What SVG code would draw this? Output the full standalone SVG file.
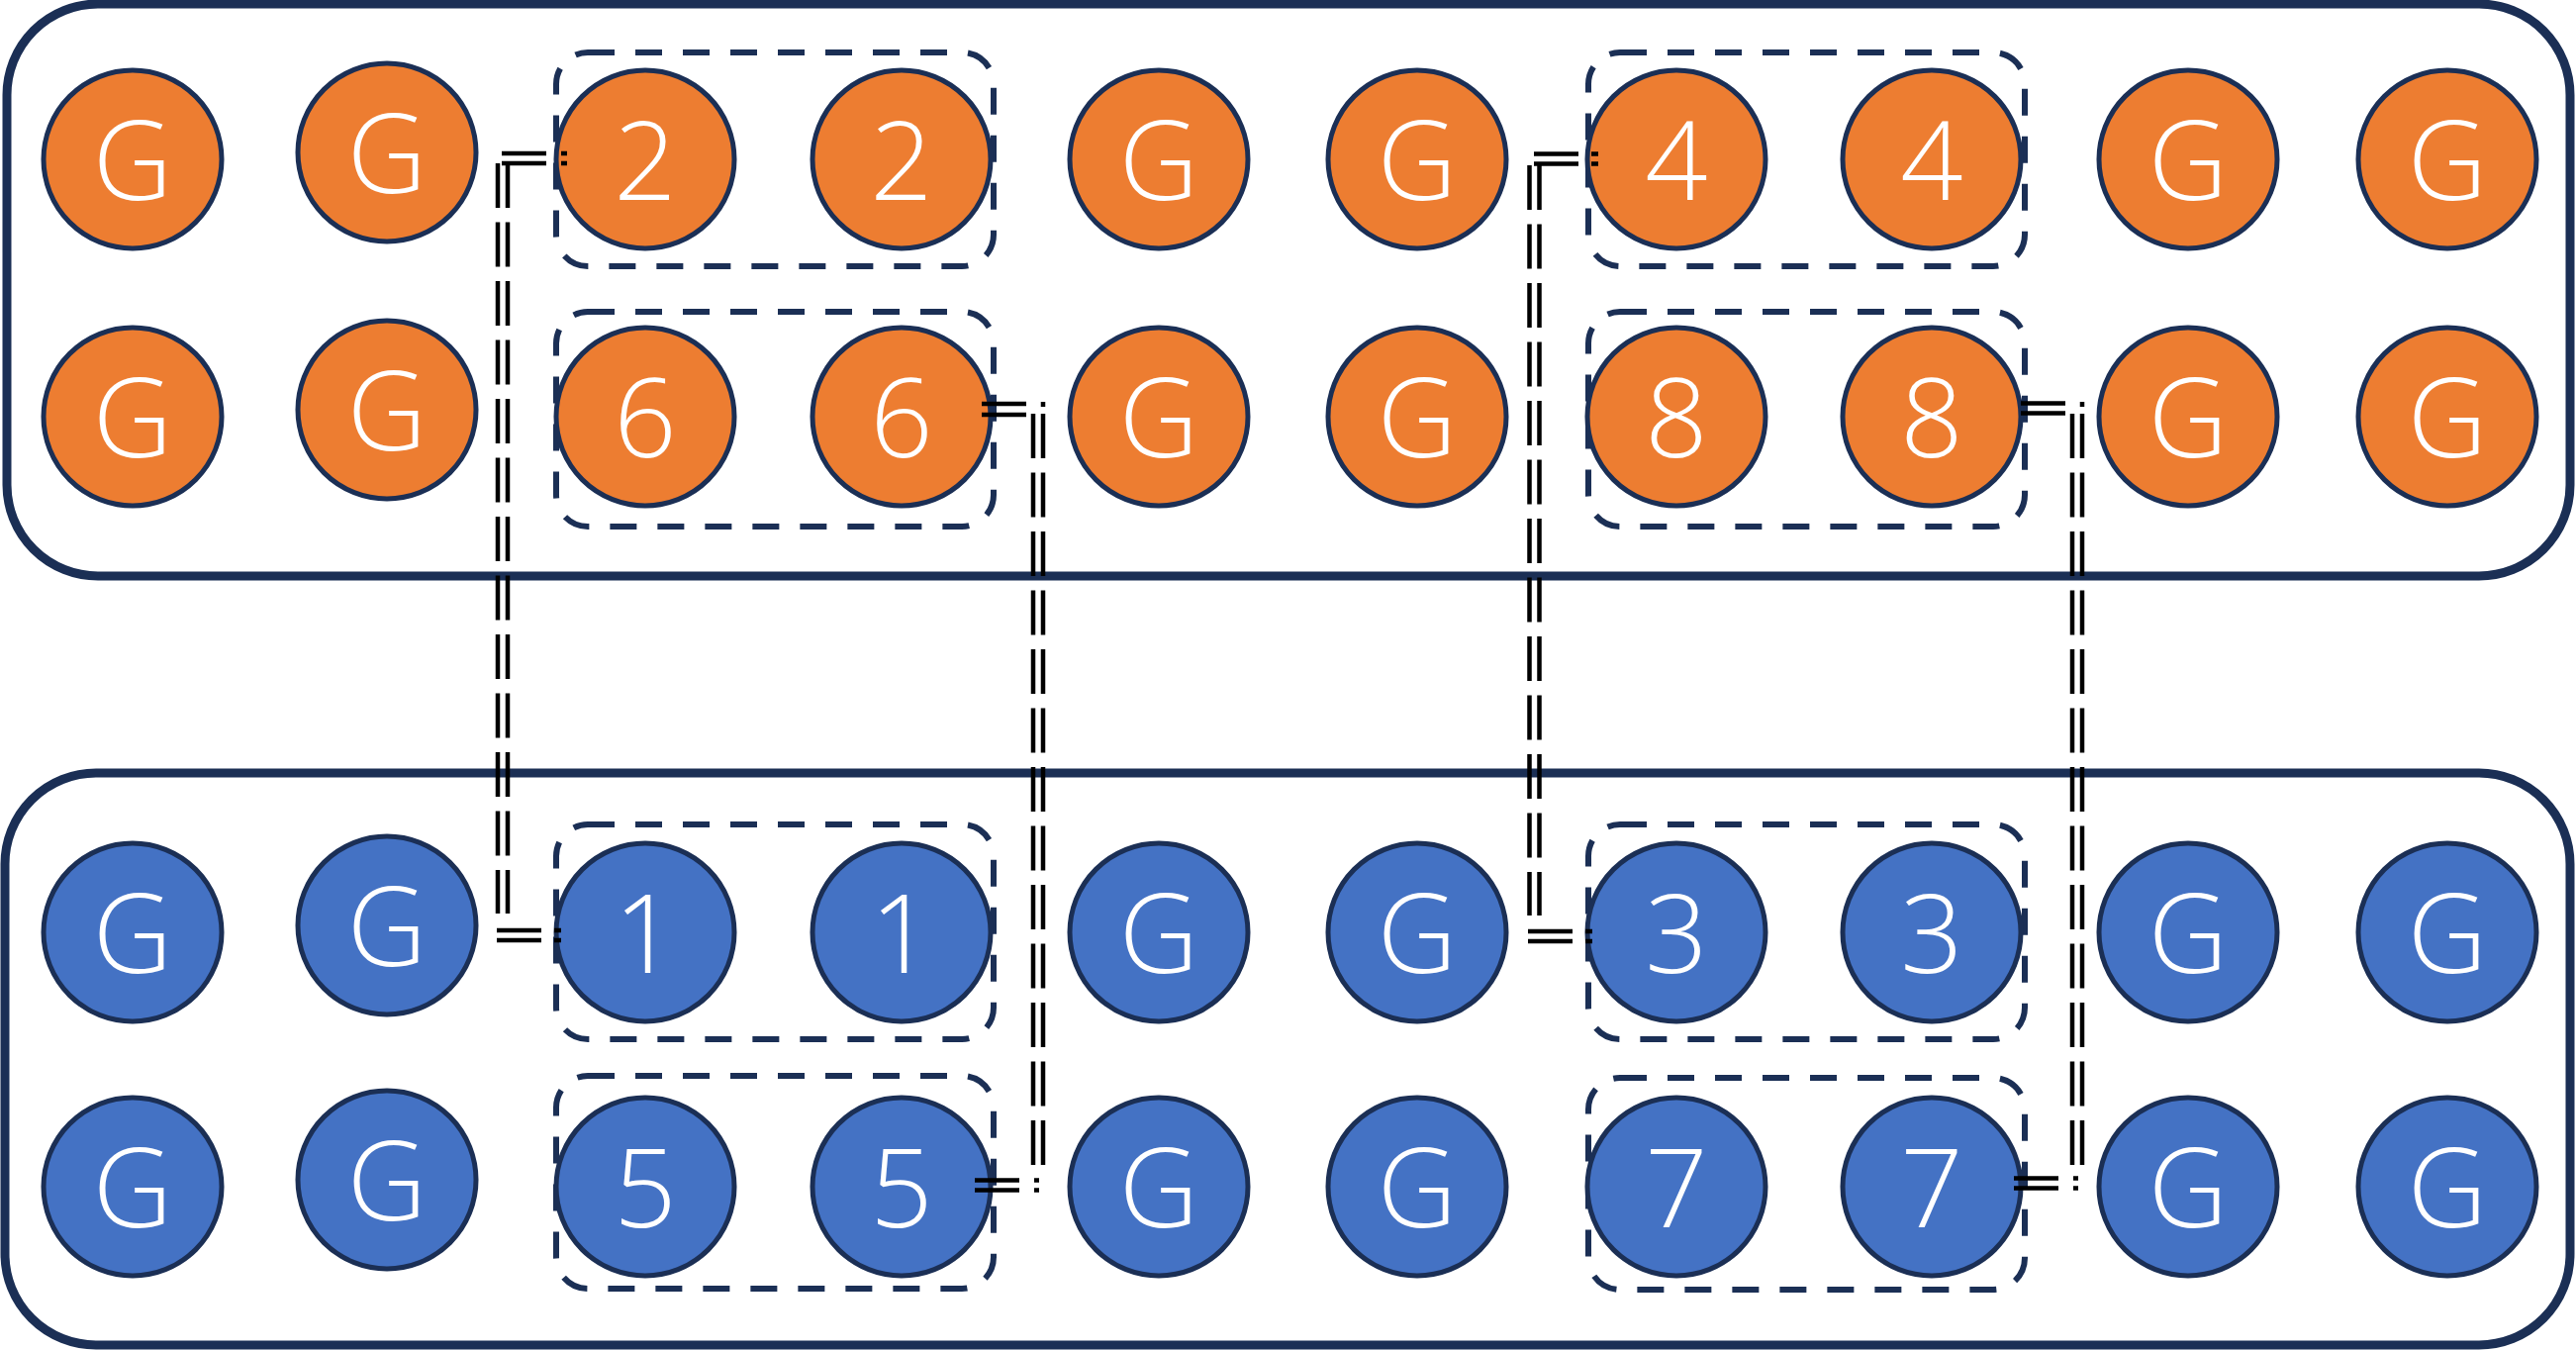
<svg xmlns="http://www.w3.org/2000/svg" width="2603" height="1364" viewBox="0 0 2603 1364">
<style>
.frame{fill:#fff;stroke:#1B2F55;stroke-width:9}
.grp{fill:none;stroke:#1B2F55;stroke-width:6;stroke-dasharray:27 21}
.o circle{fill:#ED7D31;stroke:#1B2F55;stroke-width:5}
.b circle{fill:#4472C4;stroke:#1B2F55;stroke-width:5}
text{font-family:"Open Sans","Noto Sans","DejaVu Sans",sans-serif;font-weight:360;font-size:111px;fill:#fff;text-anchor:middle}
.c{fill:none;stroke:#000;stroke-width:4.5}
.cd{fill:none;stroke:#000;stroke-width:4.5;stroke-dasharray:45 14.5}
</style>
<rect class="frame" x="7" y="4" width="2590" height="578" rx="92"/>
<rect class="frame" x="5" y="781" width="2592" height="578" rx="92"/>
<g id="groups">
<rect class="grp" x="562" y="53" width="442" height="216" rx="32"/>
<rect class="grp" x="562" y="315" width="442" height="217" rx="32"/>
<rect class="grp" x="1605" y="53" width="441" height="216" rx="32"/>
<rect class="grp" x="1605" y="315" width="441" height="217" rx="32"/>
<rect class="grp" x="562" y="833" width="442" height="217" rx="32"/>
<rect class="grp" x="562" y="1087" width="442" height="215" rx="32"/>
<rect class="grp" x="1605" y="833" width="441" height="217" rx="32"/>
<rect class="grp" x="1605" y="1089" width="441" height="214" rx="32"/>
</g>
<g id="n1-1" class="o"><circle cx="134" cy="161" r="90"/><text x="134" y="202">G</text></g>
<g id="n1-2" class="o"><circle cx="391" cy="154" r="90"/><text x="391" y="195">G</text></g>
<g id="n1-3" class="o"><circle cx="652" cy="161" r="90"/><text x="652" y="202">2</text></g>
<g id="n1-4" class="o"><circle cx="911" cy="161" r="90"/><text x="911" y="202">2</text></g>
<g id="n1-5" class="o"><circle cx="1171" cy="161" r="90"/><text x="1171" y="202">G</text></g>
<g id="n1-6" class="o"><circle cx="1432" cy="161" r="90"/><text x="1432" y="202">G</text></g>
<g id="n1-7" class="o"><circle cx="1694" cy="161" r="90"/><text x="1694" y="202">4</text></g>
<g id="n1-8" class="o"><circle cx="1952" cy="161" r="90"/><text x="1952" y="202">4</text></g>
<g id="n1-9" class="o"><circle cx="2211" cy="161" r="90"/><text x="2211" y="202">G</text></g>
<g id="n1-10" class="o"><circle cx="2473" cy="161" r="90"/><text x="2473" y="202">G</text></g>
<g id="n2-1" class="o"><circle cx="134" cy="421" r="90"/><text x="134" y="462">G</text></g>
<g id="n2-2" class="o"><circle cx="391" cy="414" r="90"/><text x="391" y="455">G</text></g>
<g id="n2-3" class="o"><circle cx="652" cy="421" r="90"/><text x="652" y="462">6</text></g>
<g id="n2-4" class="o"><circle cx="911" cy="421" r="90"/><text x="911" y="462">6</text></g>
<g id="n2-5" class="o"><circle cx="1171" cy="421" r="90"/><text x="1171" y="462">G</text></g>
<g id="n2-6" class="o"><circle cx="1432" cy="421" r="90"/><text x="1432" y="462">G</text></g>
<g id="n2-7" class="o"><circle cx="1694" cy="421" r="90"/><text x="1694" y="462">8</text></g>
<g id="n2-8" class="o"><circle cx="1952" cy="421" r="90"/><text x="1952" y="462">8</text></g>
<g id="n2-9" class="o"><circle cx="2211" cy="421" r="90"/><text x="2211" y="462">G</text></g>
<g id="n2-10" class="o"><circle cx="2473" cy="421" r="90"/><text x="2473" y="462">G</text></g>
<g id="n3-1" class="b"><circle cx="134" cy="942" r="90"/><text x="134" y="983">G</text></g>
<g id="n3-2" class="b"><circle cx="391" cy="935" r="90"/><text x="391" y="976">G</text></g>
<g id="n3-3" class="b"><circle cx="652" cy="942" r="90"/><text x="652" y="983">1</text></g>
<g id="n3-4" class="b"><circle cx="911" cy="942" r="90"/><text x="911" y="983">1</text></g>
<g id="n3-5" class="b"><circle cx="1171" cy="942" r="90"/><text x="1171" y="983">G</text></g>
<g id="n3-6" class="b"><circle cx="1432" cy="942" r="90"/><text x="1432" y="983">G</text></g>
<g id="n3-7" class="b"><circle cx="1694" cy="942" r="90"/><text x="1694" y="983">3</text></g>
<g id="n3-8" class="b"><circle cx="1952" cy="942" r="90"/><text x="1952" y="983">3</text></g>
<g id="n3-9" class="b"><circle cx="2211" cy="942" r="90"/><text x="2211" y="983">G</text></g>
<g id="n3-10" class="b"><circle cx="2473" cy="942" r="90"/><text x="2473" y="983">G</text></g>
<g id="n4-1" class="b"><circle cx="134" cy="1199" r="90"/><text x="134" y="1240">G</text></g>
<g id="n4-2" class="b"><circle cx="391" cy="1192" r="90"/><text x="391" y="1233">G</text></g>
<g id="n4-3" class="b"><circle cx="652" cy="1199" r="90"/><text x="652" y="1240">5</text></g>
<g id="n4-4" class="b"><circle cx="911" cy="1199" r="90"/><text x="911" y="1240">5</text></g>
<g id="n4-5" class="b"><circle cx="1171" cy="1199" r="90"/><text x="1171" y="1240">G</text></g>
<g id="n4-6" class="b"><circle cx="1432" cy="1199" r="90"/><text x="1432" y="1240">G</text></g>
<g id="n4-7" class="b"><circle cx="1694" cy="1199" r="90"/><text x="1694" y="1240">7</text></g>
<g id="n4-8" class="b"><circle cx="1952" cy="1199" r="90"/><text x="1952" y="1240">7</text></g>
<g id="n4-9" class="b"><circle cx="2211" cy="1199" r="90"/><text x="2211" y="1240">G</text></g>
<g id="n4-10" class="b"><circle cx="2473" cy="1199" r="90"/><text x="2473" y="1240">G</text></g>
<g id="connectors">
<g id="conn-2-1">
<path class="c" d="M567,155H573M567,165H573M507,155H552M507,165H552M502,940H547M502,950H547M560,940H567M560,950H567"/>
<path class="cd" d="M503,165V923"/><path class="cd" d="M513,165V923"/>
</g>
<g id="conn-6-5">
<path class="c" d="M992,408H1037M992,419H1037M1054,406V411M985,1192.5H1030M985,1202.5H1030M1045,1192.5H1050M1045,1202.5H1050"/>
<path class="cd" d="M1044,418V1177"/><path class="cd" d="M1054,418V1177"/>
</g>
<g id="conn-4-3">
<path class="c" d="M1608,155.5H1615M1608,165.5H1615M1550,155.5H1595M1550,165.5H1595M1544,941H1589M1544,951H1589M1602,941H1609M1602,951H1609"/>
<path class="cd" d="M1545.5,167V925"/><path class="cd" d="M1555.5,167V925"/>
</g>
<g id="conn-8-7">
<path class="c" d="M2042,407.5H2087M2042,417.5H2087M2104,406V411M2035,1190.5H2080M2035,1200.5H2080M2095,1190.5H2100M2095,1200.5H2100"/>
<path class="cd" d="M2094,418V1177"/><path class="cd" d="M2104,418V1177"/>
</g>
</g>
</svg>
